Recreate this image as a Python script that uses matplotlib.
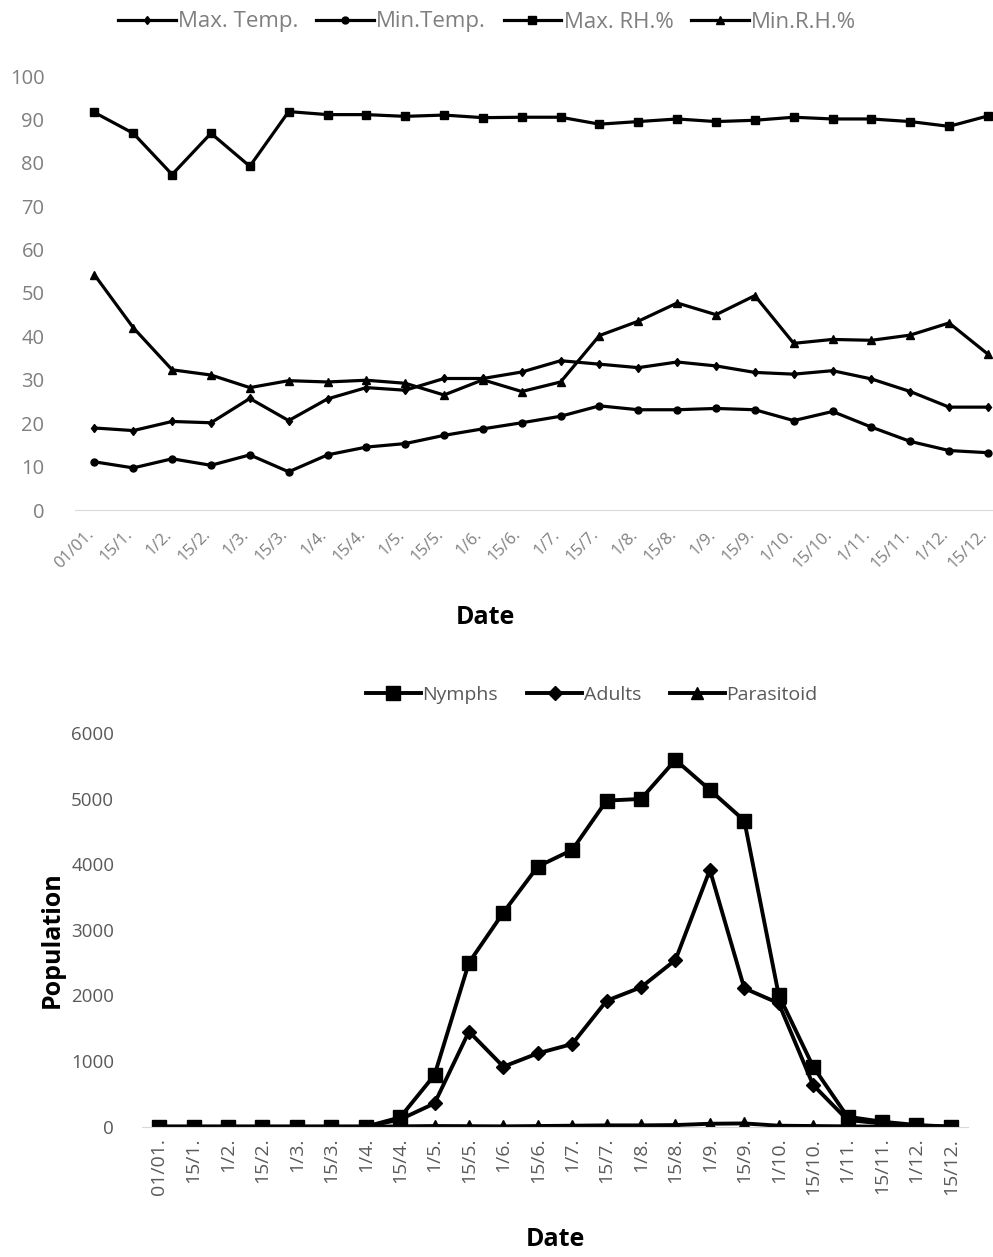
import matplotlib.pyplot as plt
import matplotlib.transforms as mtransforms

plt.rcParams['font.family'] = ['Open Sans', 'DejaVu Sans']

dates = ['01/01.', '15/1.', '1/2.', '15/2.', '1/3.', '15/3.', '1/4.', '15/4.',
         '1/5.', '15/5.', '1/6.', '15/6.', '1/7.', '15/7.', '1/8.', '15/8.',
         '1/9.', '15/9.', '1/10.', '15/10.', '1/11.', '15/11.', '1/12.', '15/12.']

# weather
max_temp = [18.9, 18.3, 20.4, 20.1, 25.7, 20.6, 25.6, 28.2, 27.6, 30.3, 30.3, 31.8,
            34.4, 33.6, 32.8, 34.1, 33.2, 31.7, 31.3, 32.1, 30.2, 27.3, 23.7, 23.7]
min_temp = [11.1, 9.7, 11.8, 10.3, 12.7, 8.8, 12.7, 14.5, 15.3, 17.2, 18.7, 20.1,
            21.6, 24.0, 23.1, 23.1, 23.4, 23.1, 20.6, 22.7, 19.1, 15.8, 13.7, 13.2]
max_rh = [91.6, 86.8, 77.3, 86.8, 79.2, 91.8, 91.1, 91.1, 90.7, 91.0, 90.4, 90.5,
          90.5, 88.9, 89.5, 90.1, 89.5, 89.8, 90.5, 90.1, 90.1, 89.5, 88.4, 90.8]
min_rh = [54.2, 42.0, 32.3, 31.1, 28.2, 29.8, 29.5, 29.9, 29.2, 26.5, 30.0, 27.3,
          29.5, 40.2, 43.5, 47.7, 45.0, 49.4, 38.4, 39.3, 39.1, 40.3, 43.1, 35.9]

# population
nymphs = [0, 0, 0, 0, 0, 0, 0, 142, 788, 2500, 3264, 3965,
          4218, 4970, 4995, 5590, 5133, 4665, 2008, 915, 152, 76, 26, 0]
adults = [0, 0, 0, 0, 0, 0, 0, 110, 356, 1450, 915, 1118,
          1260, 1920, 2125, 2541, 3913, 2110, 1881, 636, 102, 50, 15, 0]
parasitoid = [0, 0, 0, 0, 0, 0, 0, 5, 10, 8, 5, 10,
              15, 20, 20, 25, 45, 50, 15, 10, 5, 0, 0, 0]

grey = '#7f7f7f'
x = list(range(len(dates)))

fig = plt.figure(figsize=(9.93, 12.57), dpi=100)

# ---- top chart
ax1 = fig.add_axes([75 / 993, 747 / 1257, 918 / 993, 434 / 1257])
lw = 2.3
ax1.plot(x, max_temp, color='black', lw=lw, marker='d', ms=4.5, label='Max. Temp.')
ax1.plot(x, min_temp, color='black', lw=lw, marker='o', ms=5, label='Min.Temp.')
ax1.plot(x, max_rh, color='black', lw=lw, marker='s', ms=6, label='Max. RH.%')
ax1.plot(x, min_rh, color='black', lw=lw, marker='^', ms=5.5, label='Min.R.H.%')
ax1.set_ylim(0, 100)
ax1.set_yticks(range(0, 101, 10))
ax1.set_xlim(-0.5, 23.13)
ax1.set_xticks(x)
ax1.set_xticklabels(dates, rotation=45, ha='right', va='center', rotation_mode='anchor')
ax1.tick_params(length=0, colors=grey)
ax1.tick_params(axis='y', labelsize=14.5, pad=22)
ax1.tick_params(axis='x', labelsize=12, pad=0)
# nudge the slanted labels so they end just below each point
shift = mtransforms.ScaledTranslation(-3 / 100, -22 / 100, fig.dpi_scale_trans)
for lab in ax1.get_xticklabels():
    lab.set_transform(lab.get_transform() + shift)
for s in ['top', 'right', 'left']:
    ax1.spines[s].set_visible(False)
ax1.spines['bottom'].set_color('#d9d9d9')
fig.legend(*ax1.get_legend_handles_labels(), loc='center', ncol=4,
           bbox_to_anchor=(487 / 993, 1 - 22 / 1257), frameon=False,
           fontsize=16, labelcolor=grey, handlelength=2.6, handletextpad=0.1,
           columnspacing=0.8)
fig.text(485 / 993, 1 - 618 / 1257, 'Date', ha='center', va='center',
         fontsize=18, fontweight='bold')

# ---- bottom chart
ax2 = fig.add_axes([142 / 993, 130.3 / 1257, 826 / 993, 393.7 / 1257])
lw2 = 2.8
p3, = ax2.plot(x, parasitoid, color='black', lw=lw2, marker='^', ms=9, label='Parasitoid')
p2, = ax2.plot(x, adults, color='black', lw=lw2, marker='D', ms=7.5, label='Adults')
p1, = ax2.plot(x, nymphs, color='black', lw=lw2, marker='s', ms=10.5, label='Nymphs')
ax2.set_ylim(0, 6000)
ax2.set_yticks(range(0, 6001, 1000))
ax2.set_xlim(-0.5, 23.5)
ax2.set_xticks(x)
ax2.set_xticklabels(dates, rotation=90)
ax2.tick_params(length=0, colors='#595959')
ax2.tick_params(axis='y', labelsize=13.5, pad=20)
ax2.tick_params(axis='x', labelsize=14, pad=8)
for s in ['top', 'right', 'left']:
    ax2.spines[s].set_visible(False)
ax2.spines['bottom'].set_color('#d9d9d9')
fig.legend([p1, p2, p3], ['Nymphs', 'Adults', 'Parasitoid'], loc='center', ncol=3,
           bbox_to_anchor=(592 / 993, 1 - 695 / 1257), frameon=False,
           fontsize=14, labelcolor='#595959', handlelength=2.8, handletextpad=0.1,
           columnspacing=1.5)
fig.text(52 / 993, 1 - 940 / 1257, 'Population', ha='center', va='center',
         rotation=90, fontsize=18, fontweight='bold')
fig.text(555 / 993, 1 - 1240 / 1257, 'Date', ha='center', va='center',
         fontsize=18, fontweight='bold')

fig.savefig('out.png', dpi=100)
